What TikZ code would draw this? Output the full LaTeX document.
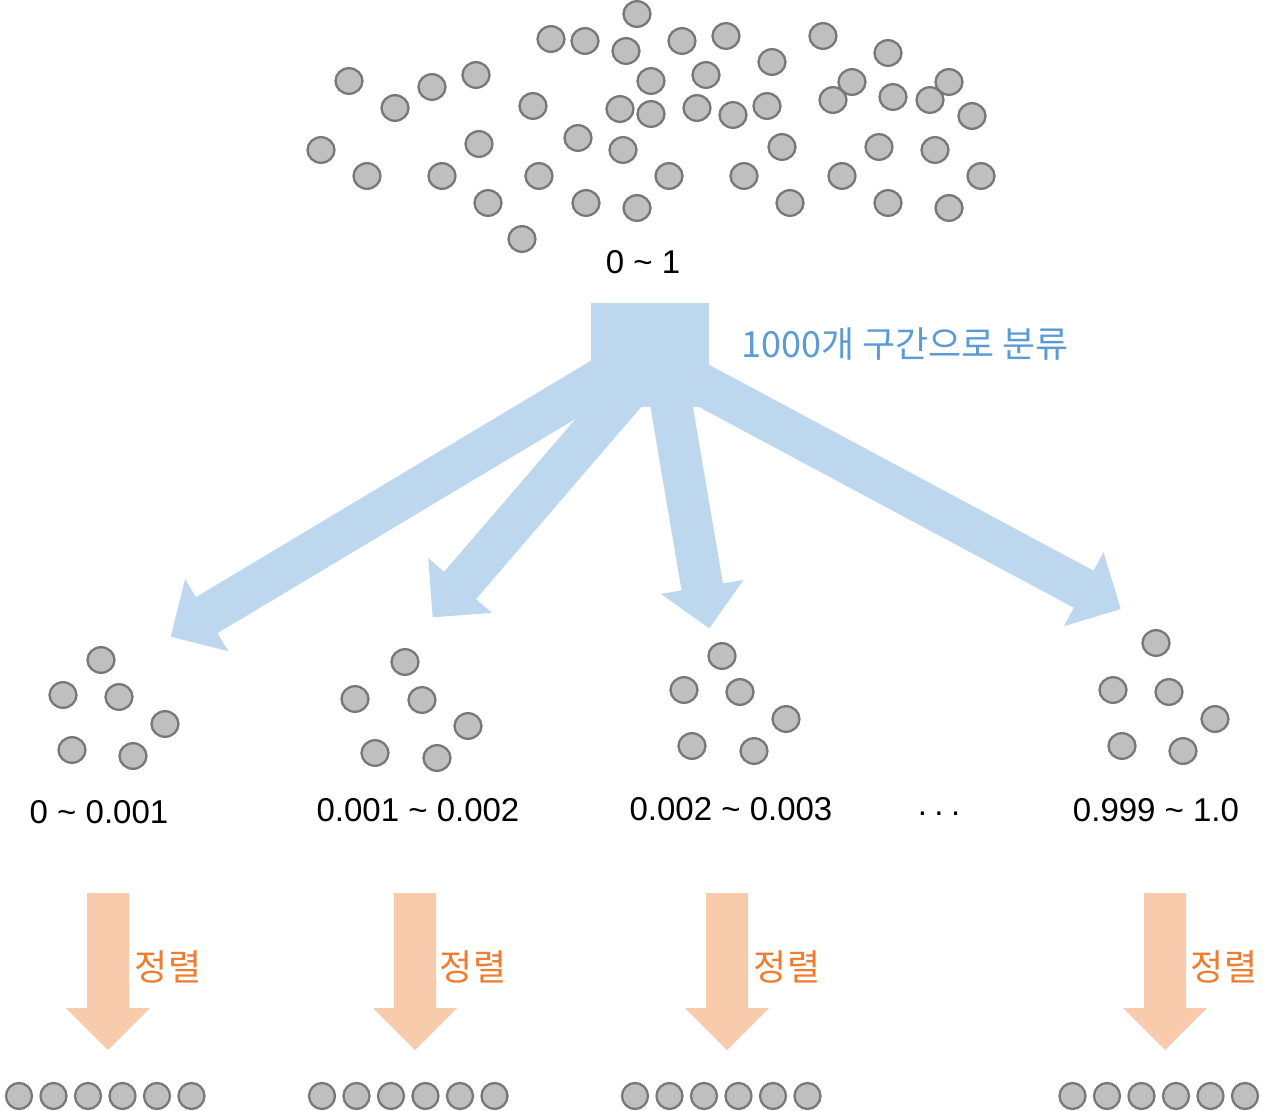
\documentclass[tikz,border=0pt]{standalone}
\usepackage{fontspec}
\setmainfont{Liberation Sans}
\newfontfamily\kofont{Noto Sans CJK KR}
\usetikzlibrary{calc,shapes.geometric}
\definecolor{ballfill}{RGB}{191,191,191}
\definecolor{ballline}{RGB}{120,120,120}
\definecolor{flowblue}{RGB}{189,215,238}
\definecolor{sortorange}{RGB}{248,203,173}
\definecolor{labelblue}{RGB}{91,155,213}
\definecolor{labelorange}{RGB}{237,125,49}
% #1 style, #2 tail, #3 tip, #4 name prefix
\newcommand\fatarrow[4]{%
  \coordinate (#4b) at ($(#3)!42pt!(#2)$);
  \fill[#1] ($(#2)!21pt!90:(#3)$) -- ($(#4b)!21pt!90:(#3)$) -- ($(#4b)!42pt!90:(#3)$)
    -- (#3) -- ($(#4b)!42pt!-90:(#3)$) -- ($(#4b)!21pt!-90:(#3)$)
    -- ($(#2)!21pt!-90:(#3)$) -- cycle;
}
\tikzset{
  ball/.style={ellipse, fill=ballfill, draw=ballline, line width=2.3pt,
    minimum width=27pt, minimum height=25.6pt, inner sep=0pt},
  rowball/.style={circle, fill=ballfill, draw=ballline, line width=2.3pt,
    minimum size=26pt, inner sep=0pt},
  rangelbl/.style={font=\fontsize{33}{40}\selectfont, inner sep=0pt, anchor=base},
  kolbl/.style={font=\kofont\fontsize{36}{42}\selectfont, inner sep=0pt},
  sortlbl/.style={kolbl, text=labelorange},
}
\begin{document}
\begin{tikzpicture}[x=1pt,y=-1pt]
\useasboundingbox (0,0) rectangle (1280,1111);

% top cloud
\foreach \px/\py [count=\i] in {637/14,551/39,585/41,626/51,682/41,726/36,823/36,888/53,772/62,
  349/81,395/108,432/87,476/75,651/81,706/75,852/82,949/82,533/106,620/109,651/114,697/108,
  733/115,767/106,833/100,893/97,930/100,972/116,321/150,479/144,578/138,623/150,782/147,
  879/147,935/150,367/176,442/176,539/176,669/176,744/176,842/176,981/176,488/203,586/203,
  637/208,790/203,888/203,949/208,522/239}
  \node[ball] (top\i) at (\px,\py) {};
\node[rangelbl] (toplbl) at (643,273) {0 \textasciitilde{} 1};

% hub and distribution arrows
\node[fill=flowblue, minimum width=118pt, minimum height=104pt, inner sep=0pt] (hub) at (650,355) {};
\node[kolbl, text=labelblue, anchor=base west] (cls) at (741,357) {1000개 구간으로 분류};
\coordinate (s1) at (638,357);   \coordinate (e1) at (170.7,636.7);
\coordinate (s2) at (641,375);   \coordinate (e2) at (432.7,617.3);
\coordinate (s3) at (664,362);   \coordinate (e3) at (709.3,628.3);
\coordinate (s4) at (680,373);   \coordinate (e4) at (1120.7,609);
\fatarrow{flowblue}{s1}{e1}{fa1}
\fatarrow{flowblue}{s2}{e2}{fa2}
\fatarrow{flowblue}{s3}{e3}{fa3}
\fatarrow{flowblue}{s4}{e4}{fa4}

% buckets
\foreach \px/\py [count=\i] in {101/660,63/695,119/697,165/724,72/750,133/756}
  \node[ball] (ba\i) at (\px,\py) {};
\foreach \px/\py [count=\i] in {405/662,355/699,422/700,468/726,375/753,437/758}
  \node[ball] (bb\i) at (\px,\py) {};
\foreach \px/\py [count=\i] in {722/656,684/690,740/692,786/719,692/746,754/751}
  \node[ball] (bc\i) at (\px,\py) {};
\foreach \px/\py [count=\i] in {1156/643,1113/690,1169/692,1215/719,1122/746,1183/751}
  \node[ball] (bd\i) at (\px,\py) {};

\node[rangelbl] (la) at (99,823) {0 \textasciitilde{} 0.001};
\node[rangelbl] (lb) at (418,821.5) {0.001 \textasciitilde{} 0.002};
\node[rangelbl] (lc) at (731,820) {0.002 \textasciitilde{} 0.003};
\node[rangelbl] (ldots) at (939,815) {.\hspace{7.5pt}.\hspace{7.5pt}.};
\node[rangelbl] (ld) at (1156,821) {0.999 \textasciitilde{} 1.0};

% sorting arrows
\foreach \cx/\tx [count=\i] in {108/168,415/473,727/787,1165/1224}{
  \coordinate (os\i) at (\cx,893);
  \coordinate (oe\i) at (\cx,1050);
  \fatarrow{sortorange}{os\i}{oe\i}{oa\i}
  \node[sortlbl] (sl\i) at (\tx,967) {정렬};
}

% sorted rows
\foreach \sx [count=\r] in {19,322,635,1072.5}
  \foreach \k in {0,...,5}
    \node[rowball] (row\r-\k) at ({\sx+34.5*\k},1096) {};
\end{tikzpicture}
\end{document}
